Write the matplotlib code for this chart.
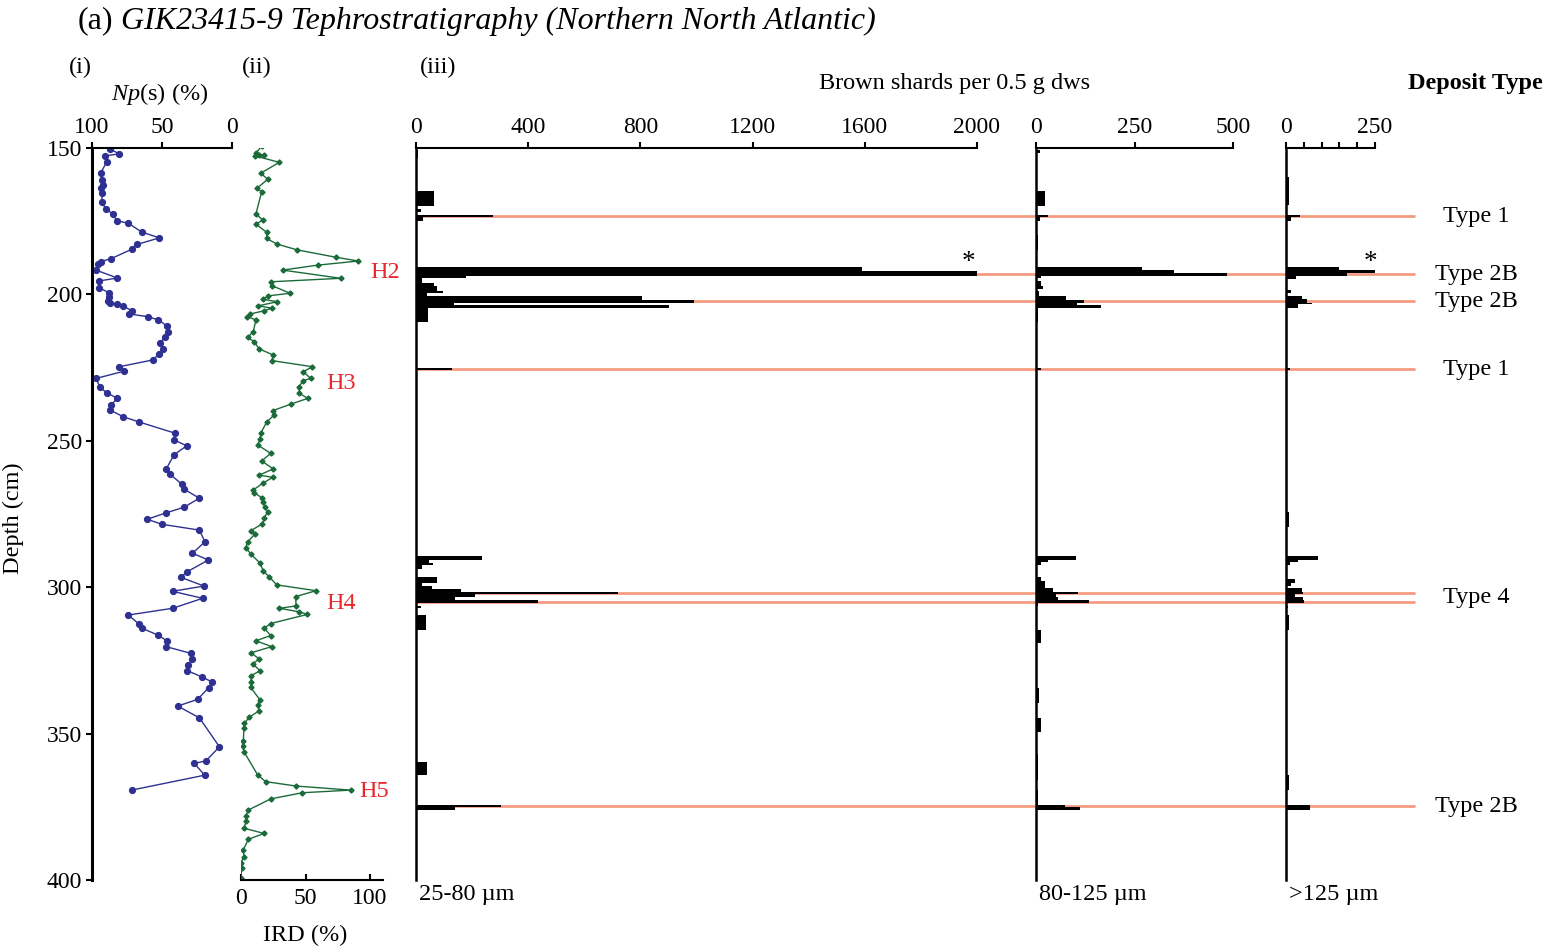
import matplotlib.pyplot as plt
import matplotlib.transforms as mtransforms

plt.rcParams['font.family'] = 'Liberation Serif'
plt.rcParams['mathtext.fontset'] = 'custom'
plt.rcParams['mathtext.rm'] = 'Liberation Serif'
plt.rcParams['mathtext.it'] = 'Liberation Serif:italic'

# (i) N. pachyderma (s) percentage
np_depth = [150.4, 152.0, 152.7, 154.7, 158.6, 160.9, 162.6, 163.8, 165.3, 168.5,
            170.8, 172.5, 174.8, 175.7, 178.7, 180.7, 182.9, 184.6, 187.8, 188.8,
            189.6, 191.7, 194.4, 195.4, 197.7, 199.4, 200.8, 202.3, 203.0, 203.4,
            204.0, 205.6, 206.7, 207.6, 208.7, 210.7, 212.7, 214.7, 216.5, 218.8,
            220.4, 222.4, 224.7, 226.2, 228.7, 231.7, 233.6, 235.5, 237.8, 239.5,
            241.8, 243.6, 247.4, 249.7, 251.7, 254.8, 259.7, 261.4, 264.8, 266.5,
            269.6, 272.7, 274.6, 276.8, 278.5, 280.5, 284.5, 288.4, 290.7, 294.7,
            296.6, 299.6, 301.4, 303.8, 307.2, 309.5, 312.7, 314.0, 316.3, 318.4,
            320.3, 322.6, 324.5, 326.6, 328.5, 330.6, 332.4, 334.3, 338.3, 340.6,
            344.6, 354.5, 359.3, 360.2, 364.2, 369.3]
np_pct = [87.1, 80.5, 90.7, 89.5, 93.8, 93.1, 91.9, 93.6, 92.9, 92.9,
          90.2, 85.2, 82.4, 74.0, 64.5, 51.9, 67.6, 71.7, 86.4, 93.8,
          96.0, 97.1, 81.9, 94.8, 95.2, 87.9, 87.6, 88.3, 87.1, 81.9,
          77.6, 71.4, 73.3, 60.2, 52.6, 46.7, 45.5, 47.9, 51.4, 49.0,
          52.1, 56.7, 80.5, 76.9, 97.1, 94.3, 89.5, 81.9, 86.4, 87.1,
          77.6, 66.2, 40.7, 41.4, 32.4, 41.4, 47.1, 44.3, 35.9, 34.3,
          23.3, 34.3, 47.1, 60.5, 50.2, 23.3, 19.3, 28.3, 16.9, 31.9,
          36.7, 20.0, 42.4, 21.0, 42.4, 74.0, 66.2, 64.5, 53.1, 46.2,
          47.1, 29.3, 28.3, 31.6, 31.9, 21.7, 14.1, 16.7, 24.5, 38.8,
          23.3, 9.0, 18.6, 26.9, 19.5, 71.7]

# (ii) ice-rafted debris percentage
ird_depth = [149.3, 151.8, 152.3, 152.5, 152.7, 154.9, 158.6, 160.7, 163.8, 164.9,
             172.5, 174.6, 176.0, 178.8, 180.9, 182.8, 184.8, 187.3, 188.6, 190.0,
             191.7, 194.5, 195.7, 197.0, 199.6, 200.5, 201.7, 202.5, 203.9, 204.7,
             205.6, 206.7, 207.6, 208.7, 212.7, 214.7, 216.2, 218.6, 220.7, 222.6,
             224.7, 226.4, 228.7, 229.5, 231.5, 233.8, 235.5, 237.5, 239.7, 241.2,
             243.6, 247.4, 249.5, 251.4, 254.3, 256.9, 259.6, 261.7, 262.5, 264.5,
             266.8, 267.7, 269.6, 271.0, 272.7, 274.2, 276.3, 278.4, 280.7, 281.8,
             284.5, 286.5, 288.7, 291.8, 294.5, 296.4, 299.2, 301.2, 303.2, 306.4,
             307.2, 308.4, 309.3, 312.4, 314.0, 316.5, 318.3, 320.3, 322.4, 324.5,
             326.2, 328.5, 330.3, 332.3, 334.2, 338.5, 340.2, 342.2, 344.5, 346.5,
             348.2, 352.4, 354.2, 356.2, 364.1, 366.4, 367.9, 369.3, 370.2, 372.3,
             376.1, 378.0, 380.0, 382.3, 384.1, 386.1, 389.7, 392.0, 394.1, 396.0,
             399.2]
ird_pct = [16.0, 11.6, 14.2, 18.1, 10.9, 29.7, 15.3, 20.7, 12.2, 16.0,
           11.6, 16.8, 11.6, 19.9, 19.9, 27.7, 43.6, 73.4, 90.9, 59.5,
           32.3, 77.3, 23.0, 23.8, 38.0, 21.2, 17.3, 28.1, 13.4, 23.8,
           17.8, 7.0, 4.9, 11.6, 9.5, 5.2, 10.3, 14.0, 25.0, 23.8,
           55.3, 48.3, 54.0, 47.8, 45.2, 45.2, 51.7, 38.5, 24.6, 25.6,
           19.9, 15.3, 14.7, 12.9, 23.0, 16.0, 25.0, 14.2, 24.6, 16.8,
           9.5, 10.3, 16.5, 17.3, 18.6, 20.7, 18.1, 16.5, 7.5, 10.9,
           5.2, 3.6, 7.8, 14.7, 17.3, 21.7, 27.7, 58.1, 42.4, 42.6,
           29.7, 45.0, 51.4, 23.0, 18.1, 23.0, 11.6, 23.8, 7.8, 14.0,
           9.1, 14.7, 7.8, 7.8, 7.5, 14.7, 12.9, 14.0, 6.2, 2.6,
           2.3, 1.8, 1.3, 2.3, 12.9, 19.1, 42.4, 85.0, 47.5, 23.0,
           5.7, 3.9, 3.9, 2.3, 17.8, 5.7, 1.8, 2.3, 0.0, 0.5,
           0.0]
heinrich_labels = ['H2', 'H3', 'H4', 'H5']

# (iii) brown shard counts, interval top / base depth (cm) and count
fine_top = [150.7, 159.8, 164.7, 170.8, 172.9, 173.7, 190.5, 191.9, 193.7, 194.5,
            196.0, 197.3, 198.7, 199.6, 200.5, 201.9, 202.8, 203.6, 204.7, 225.1,
            289.3, 290.7, 291.6, 292.5, 295.1, 296.6, 298.4, 299.6, 300.7, 301.5,
            302.3, 303.5, 304.5, 306.4, 309.5, 345.0, 359.6, 364.1, 374.4, 375.2]
fine_base = [153.5, 164.3, 169.7, 172.0, 173.7, 174.9, 191.9, 193.7, 194.5, 196.0,
             197.3, 198.7, 199.6, 200.5, 201.9, 202.8, 203.6, 204.7, 209.5, 225.9,
             290.7, 291.6, 292.5, 293.8, 296.6, 298.4, 299.6, 300.7, 301.5, 302.3,
             303.5, 304.5, 305.4, 307.2, 314.6, 348.0, 364.1, 368.7, 375.2, 376.1]
fine_count = [8, 3, 65, 18, 276, 26, 1590, 2600, 178, 20,
              65, 75, 96, 38, 807, 990, 136, 902, 44, 128,
              234, 46, 62, 20, 4, 74, 20, 56, 160, 719,
              210, 139, 434, 18, 36, 4, 40, 5, 303, 139]

med_top = [150.7, 164.7, 172.9, 173.7, 179.7, 190.5, 191.7, 192.6, 193.7, 195.5,
           197.0, 199.0, 200.5, 201.9, 202.8, 203.6, 204.7, 225.1, 289.3, 290.7,
           291.4, 296.4, 297.9, 300.4, 301.5, 302.3, 303.5, 304.5, 305.4, 309.5,
           314.6, 334.5, 344.8, 357.0, 369.3, 374.4, 375.2]
med_base = [151.8, 169.7, 173.7, 174.9, 184.8, 191.7, 192.6, 193.7, 194.5, 197.0,
            198.3, 200.5, 201.9, 202.8, 203.6, 204.7, 209.5, 225.9, 290.7, 291.4,
            292.5, 297.9, 300.4, 301.5, 302.3, 303.5, 304.5, 305.4, 306.5, 312.0,
            319.2, 339.6, 349.3, 366.0, 374.4, 375.2, 376.1]
med_count = [10, 23, 30, 10, 5, 270, 351, 485, 12, 12,
             17, 8, 75, 123, 103, 165, 5, 12, 101, 31,
             13, 13, 23, 42, 107, 50, 55, 134, 5, 3,
             12, 8, 12, 4, 6, 74, 112]

coarse_top = [159.8, 172.9, 173.7, 190.5, 191.7, 192.6, 193.7, 194.6, 198.5, 200.5,
              201.5, 202.8, 203.3, 225.1, 274.3, 289.3, 290.7, 291.4, 297.3, 298.4,
              300.4, 301.5, 302.3, 303.5, 304.5, 306.4, 309.5, 364.1, 374.4]
coarse_base = [169.5, 173.7, 175.0, 191.7, 192.6, 193.7, 194.6, 198.5, 199.6, 201.5,
               202.8, 203.3, 204.7, 225.9, 279.4, 290.7, 291.4, 292.5, 298.4, 299.5,
               301.5, 302.3, 303.5, 304.5, 305.4, 307.2, 314.6, 369.3, 376.1]
coarse_count = [8, 39, 14, 149, 300, 170, 27, 3, 13, 44,
                58, 74, 35, 12, 8, 91, 33, 11, 25, 14,
                44, 47, 25, 49, 51, 5, 9, 8, 67]

# tephra horizons and their deposit types
tephra_depth = [173.33, 193.13, 202.36, 225.48, 301.88, 304.95, 374.83]
deposit_depth = [173.33, 193.13, 202.36, 225.48, 303.4, 374.83]
deposit_type = ['Type 1', 'Type 2B', 'Type 2B', 'Type 1', 'Type 4', 'Type 2B']

BLUE = '#2e3192'
GREEN = '#1b6b3a'
SALMON = '#f4977b'
RED = '#e8282e'
FS = 17.5     # labels
TS = 17       # tick labels

W, H = 1546, 949
fig = plt.figure(figsize=(W / 100, H / 100), dpi=100)


def box(x0, x1, y0=148, y1=880):
    return [x0 / W, 1 - y1 / H, (x1 - x0) / W, (y1 - y0) / H]


# ---- (i) Np(s)
ax_np = fig.add_axes(box(92, 232))
ax_np.plot(np_pct, np_depth, color=BLUE, lw=1, marker='o', ms=4.2)
ax_np.set_xlim(100, 0)
ax_np.set_ylim(400, 150)
ax_np.xaxis.tick_top()
ax_np.set_xticks([100, 50, 0])
ax_np.set_yticks(range(150, 401, 50))
ax_np.spines['right'].set_visible(False)
ax_np.spines['bottom'].set_visible(False)
ax_np.spines['left'].set_linewidth(2.2)
ax_np.spines['top'].set_linewidth(1.5)
ax_np.tick_params(axis='both', labelsize=TS, width=1.5, length=4, pad=3)

# ---- (ii) IRD
ax_ird = fig.add_axes(box(241, 383))
ax_ird.plot(ird_pct, ird_depth, color=GREEN, lw=1, marker='D', ms=2.6)
ax_ird.set_xlim(0, 110)
ax_ird.set_ylim(400, 150)
ax_ird.set_xticks([0, 50, 100])
ax_ird.set_yticks([])
for s in ['left', 'right', 'top']:
    ax_ird.spines[s].set_visible(False)
ax_ird.spines['bottom'].set_linewidth(1.5)
ax_ird.tick_params(axis='x', direction='in', labelsize=TS, width=1.5, length=4, pad=6)
ax_ird.patch.set_alpha(0)
heinrich_pos = [(100, 192.4), (66, 230.3), (66, 305.7), (92, 369.9)]
for lab, (hx, hy) in zip(heinrich_labels, heinrich_pos):
    ax_ird.text(hx, hy, lab, color=RED, fontsize=FS, va='center', ha='left')

# ---- (iii) brown shards, three size fractions
ax_f = fig.add_axes(box(416, 977))
ax_m = fig.add_axes(box(1036, 1233))
ax_c = fig.add_axes(box(1286, 1375))

fractions = [
    (ax_f, fine_top, fine_base, fine_count, 2000, [0, 400, 800, 1200, 1600, 2000], None, '25-80 µm'),
    (ax_m, med_top, med_base, med_count, 500, [0, 250, 500], None, '80-125 µm'),
    (ax_c, coarse_top, coarse_base, coarse_count, 250, [0, 50, 100, 150, 200, 250],
     ['0', '', '', '', '', '250'], '>125 µm'),
]
for ax, top, base, cnt, xmax, ticks, ticklabels, name in fractions:
    heights = [b - t for t, b in zip(top, base)]
    ax.barh(top, cnt, height=heights, align='edge', color='black', lw=0, zorder=3)
    ax.set_xlim(0, xmax)
    ax.set_ylim(400, 150)
    ax.xaxis.tick_top()
    ax.set_xticks(ticks)
    if ticklabels:
        ax.set_xticklabels(ticklabels)
    ax.set_yticks([])
    ax.spines['right'].set_visible(False)
    ax.spines['bottom'].set_visible(False)
    ax.spines['left'].set_linewidth(1.8)
    ax.spines['top'].set_linewidth(1.5)
    ax.tick_params(axis='x', labelsize=TS, width=1.5, length=4, pad=3)
    ax.patch.set_alpha(0)
    # size fraction name under the axis, offset a few pixels right of the spine
    name_pos = mtransforms.offset_copy(ax.transAxes, fig=fig, x=3, y=-4, units='dots')
    ax.text(0, 0, name, transform=name_pos, fontsize=FS, ha='left', va='top')

# tephra horizon lines run from the fine-fraction axis out to the labels
line_end = 2000 * (1415 - 416) / (977 - 416)
for d in tephra_depth:
    ax_f.plot([0, line_end], [d, d], color=SALMON, lw=1.9, clip_on=False, zorder=2,
              solid_capstyle='butt')

# off-scale markers
ax_f.text(1968, 189.2, '*', fontsize=FS + 2, ha='center', va='center')
ax_c.text(236, 189.2, '*', fontsize=FS + 2, ha='center', va='center')

trans = mtransforms.blended_transform_factory(fig.transFigure, ax_f.transData)
for d, lab in zip(deposit_depth, deposit_type):
    fig.text(1476 / W, d, lab, transform=trans, fontsize=FS, ha='center', va='center')

# ---- headers
fig.text(78 / W, 1 - 21 / H, '(a)', fontsize=23, va='center', ha='left')
fig.text(121 / W, 1 - 21 / H, 'GIK23415-9 Tephrostratigraphy (Northern North Atlantic)',
         fontsize=23, style='italic', va='center', ha='left')
fig.text(80 / W, 1 - 67 / H, '(i)', fontsize=FS, ha='center', va='center')
fig.text(257 / W, 1 - 67 / H, '(ii)', fontsize=FS, ha='center', va='center')
fig.text(438 / W, 1 - 67 / H, '(iii)', fontsize=FS, ha='center', va='center')
fig.text(160 / W, 1 - 94 / H, r'$\mathit{Np}$(s) (%)', fontsize=FS, ha='center', va='center')
fig.text(955 / W, 1 - 83 / H, 'Brown shards per 0.5 g dws', fontsize=FS, ha='center', va='center')
fig.text(1475 / W, 1 - 83 / H, 'Deposit Type', fontsize=FS, weight='bold', ha='center', va='center')
fig.text(305 / W, 1 - 935 / H, 'IRD (%)', fontsize=FS, ha='center', va='center')
fig.text(13 / W, 1 - 518 / H, 'Depth (cm)', fontsize=FS, rotation=90, ha='center', va='center')

fig.savefig('out.png', dpi=100)
